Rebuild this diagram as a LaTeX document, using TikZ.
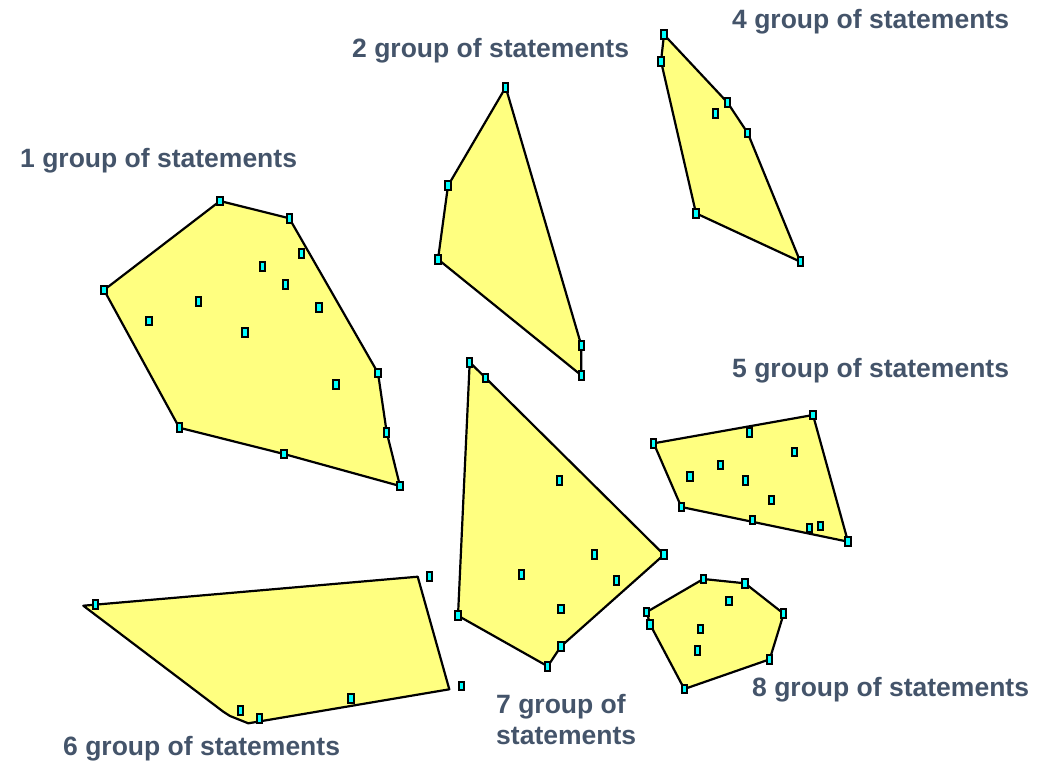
\documentclass[tikz,border=0pt]{standalone}
\usepackage{fontspec}
\setmainfont{Liberation Sans}
\definecolor{labelc}{HTML}{44546A}
\definecolor{polyfill}{HTML}{FFFF80}
\definecolor{mk}{HTML}{00FFFF}
\begin{document}
\begin{tikzpicture}[x=1pt,y=-1pt,
  poly/.style={draw=black,line width=2.2pt,fill=polyfill,line join=round},
  pmark/.style={draw=black,line width=2pt,fill=mk,rectangle,minimum width=5.5pt,minimum height=8.5pt,inner sep=0pt},
  glabel/.style={text=labelc,font=\bfseries\fontsize{26.5}{32}\selectfont,anchor=base west,inner sep=0pt}]
\useasboundingbox (0,0) rectangle (1056,760);
% ---------- group 1
\coordinate (a1) at (220,201);
\coordinate (a2) at (289.3,218.3);
\coordinate (a3) at (378,373);
\coordinate (a4) at (386.7,432.3);
\coordinate (a5) at (400,486);
\coordinate (a6) at (284,454);
\coordinate (a7) at (179.3,427.7);
\coordinate (a8) at (104,290);
\draw[poly] (a1)--(a2)--(a3)--(a4)--(a5)--(a6)--(a7)--(a8)--cycle;
\foreach \p in {a1,a2,a3,a4,a5,a6,a7,a8} \node[pmark] (m\p) at (\p) {};
\node[pmark] (a9) at (301.7,253.3) {};
\node[pmark] (a10) at (262.3,266.7) {};
\node[pmark] (a11) at (285.7,284.3) {};
\node[pmark] (a12) at (198.7,301.3) {};
\node[pmark] (a13) at (149,321) {};
\node[pmark] (a14) at (245,332.3) {};
\node[pmark] (a15) at (319,307.7) {};
\node[pmark] (a16) at (336,384.3) {};
% ---------- group 2
\coordinate (b1) at (505.7,87.3);
\coordinate (b2) at (581.3,345.3);
\coordinate (b3) at (581.3,375.3);
\coordinate (b4) at (438,259.3);
\coordinate (b5) at (448,185.7);
\draw[poly] (b1)--(b2)--(b3)--(b4)--(b5)--cycle;
\foreach \p in {b1,b2,b3,b4,b5} \node[pmark] (m\p) at (\p) {};
% ---------- group 4
\coordinate (c1) at (664,34.7);
\coordinate (c2) at (727.3,102.3);
\coordinate (c3) at (747.7,133);
\coordinate (c4) at (800.3,261.7);
\coordinate (c5) at (696,213.3);
\coordinate (c6) at (661,61.3);
\draw[poly] (c1)--(c2)--(c3)--(c4)--(c5)--(c6)--cycle;
\foreach \p in {c1,c2,c3,c4,c5,c6} \node[pmark] (m\p) at (\p) {};
\node[pmark] (c7) at (715.3,113.7) {};
% ---------- group 5
\coordinate (d1) at (653.7,443.3);
\coordinate (d2) at (813,415);
\coordinate (d3) at (848,541.7);
\coordinate (d4) at (681.3,507);
\draw[poly] (d1)--(d2)--(d3)--(d4)--cycle;
\foreach \p in {d1,d2,d3,d4} \node[pmark] (m\p) at (\p) {};
\node[pmark] (d5) at (752.7,520) {};
\node[pmark] (d6) at (809.3,528) {};
\node[pmark] (d7) at (820.3,526) {};
\node[pmark] (d8) at (749.3,432.3) {};
\node[pmark] (d9) at (794.3,452) {};
\node[pmark] (d10) at (720.7,465) {};
\node[pmark] (d11) at (690,476.3) {};
\node[pmark] (d12) at (745.3,480.3) {};
\node[pmark] (d13) at (771.3,500) {};
% ---------- group 6
\coordinate (e1) at (83.3,605.7);
\coordinate (e2) at (417.7,576.7);
\coordinate (e3) at (449.3,689.3);
\coordinate (e4) at (248.3,723.3);
\coordinate (e5) at (230,716);
\coordinate (e6c) at (223.3,711.7);
\draw[poly] (e1)--(e2)--(e3)--(e4)--(e5)--(e6c)--cycle;
\node[pmark] (e6) at (95.7,604.7) {};
\node[pmark] (e7) at (429.3,576.3) {};
\node[pmark] (e8) at (461.3,686) {};
\node[pmark] (e9) at (351,698.7) {};
\node[pmark] (e10) at (240.7,710.3) {};
\node[pmark] (e11) at (259.3,718.7) {};
% ---------- group 7
\coordinate (f1) at (469.7,362.3);
\coordinate (f2) at (485.7,378);
\coordinate (f3) at (664,554.7);
\coordinate (f4) at (561,646.3);
\coordinate (f5) at (547.7,666.3);
\coordinate (f6) at (458,615.7);
\draw[poly] (f1)--(f2)--(f3)--(f4)--(f5)--(f6)--cycle;
\foreach \p in {f1,f2,f3,f4,f5,f6} \node[pmark] (m\p) at (\p) {};
\node[pmark] (f7) at (559.3,480.3) {};
\node[pmark] (f8) at (594.3,554.7) {};
\node[pmark] (f9) at (521.7,574.7) {};
\node[pmark] (f10) at (616.3,580.7) {};
\node[pmark] (f11) at (561,609) {};
% ---------- group 8
\coordinate (g1) at (703.3,579);
\coordinate (g2) at (745,583.3);
\coordinate (g3) at (783.7,613.7);
\coordinate (g4) at (769.7,659.3);
\coordinate (g5) at (684.3,689);
\coordinate (g6) at (650,624.3);
\coordinate (g7) at (646.7,612);
\draw[poly] (g1)--(g2)--(g3)--(g4)--(g5)--(g6)--(g7)--cycle;
\foreach \p in {g1,g2,g3,g4,g5,g6,g7} \node[pmark] (m\p) at (\p) {};
\node[pmark] (g8) at (729,601) {};
\node[pmark] (g9) at (700.3,629) {};
\node[pmark] (g10) at (697.3,650.7) {};
% ---------- labels
\node[glabel] (l1) at (20,167) {1 group of statements};
\node[glabel] (l2) at (352,57) {2 group of statements};
\node[glabel] (l4) at (732,29) {4 group of statements};
\node[glabel] (l5) at (732,377) {5 group of statements};
\node[glabel] (l6) at (63,755) {6 group of statements};
\node[glabel] (l7a) at (496,713) {7 group of};
\node[glabel] (l7b) at (496,744.5) {statements};
\node[glabel] (l8) at (752,696) {8 group of statements};
\end{tikzpicture}
\end{document}
